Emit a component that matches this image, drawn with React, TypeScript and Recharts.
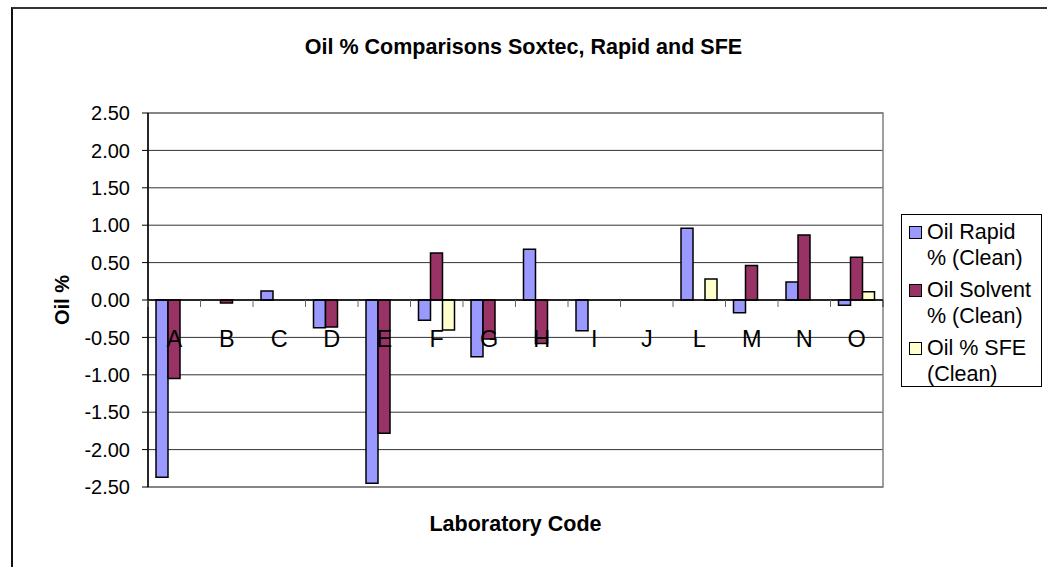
import { BarChart, Bar, XAxis, YAxis, CartesianGrid, Legend, ReferenceLine, ReferenceArea, Label } from "recharts";

const CODES = ["A", "B", "C", "D", "E", "F", "G", "H", "I", "J", "L", "M", "N", "O"];
const RAPID = [-2.37, null, 0.12, -0.37, -2.45, -0.27, -0.76, 0.68, -0.41, null, 0.96, -0.17, 0.24, -0.07];
const SOLVENT = [-1.05, -0.04, null, -0.36, -1.78, 0.63, -0.52, -0.58, null, null, null, 0.46, 0.87, 0.57];
const SFE = [null, null, null, null, null, -0.4, null, null, null, null, 0.28, null, null, 0.11];
const Y_TICKS = [-2.5, -2, -1.5, -1, -0.5, 0, 0.5, 1, 1.5, 2, 2.5];

const SERIES = [
  { key: "rapid", name: "Oil Rapid % (Clean)", color: "#9999FF" },
  { key: "solvent", name: "Oil Solvent % (Clean)", color: "#993366" },
  { key: "sfe", name: "Oil % SFE (Clean)", color: "#FFFFCC" },
];

const data = CODES.map((code, i) => ({ code, rapid: RAPID[i], solvent: SOLVENT[i], sfe: SFE[i] }));

const FONT = "'Liberation Sans', Arial, sans-serif";
const W = 1047;
const H = 567;
const PLOT_LEFT = 148;
const PLOT_TOP = 113;
const PLOT_RIGHT = 883;
const PLOT_BOTTOM = 487;
const Y_AXIS_W = 60;
const X_AXIS_H = 30;
const Y_MIN = -2.5;
const Y_MAX = 2.5;
const BAND = (PLOT_RIGHT - PLOT_LEFT) / CODES.length;
const ZERO_Y = PLOT_TOP + ((PLOT_BOTTOM - PLOT_TOP) * Y_MAX) / (Y_MAX - Y_MIN);

// category labels and tick marks sit on the zero line, like Excel does
const CategoryTick = (props: any) => {
  const { x, payload, index } = props;
  const half = BAND / 2;
  return (
    <g>
      <line x1={x - half} x2={x - half} y1={ZERO_Y} y2={ZERO_Y + 7} stroke="#666" />
      {index === CODES.length - 1 && (
        <line x1={x + half} x2={x + half} y1={ZERO_Y} y2={ZERO_Y + 7} stroke="#333" />
      )}
      <text x={x} y={ZERO_Y + 47} textAnchor="middle" fontSize={23.5} fontFamily={FONT} fill="#000">
        {payload.value}
      </text>
    </g>
  );
};

const LegendBox = () => (
  <div
    style={{
      boxSizing: "border-box",
      width: 141,
      height: 173,
      border: "1px solid #000",
      background: "#fff",
      padding: "4px 0 0 0",
      fontFamily: FONT,
      fontSize: 21.5,
      lineHeight: "26px",
      color: "#000",
    }}
  >
    {SERIES.map((s) => (
      <div key={s.key} style={{ position: "relative", paddingLeft: 25, marginBottom: 6, width: 110 }}>
        <span
          style={{
            position: "absolute",
            left: 7,
            top: 7,
            width: 11,
            height: 11,
            background: s.color,
            border: "1.5px solid #000",
          }}
        />
        {s.name}
      </div>
    ))}
  </div>
);

export default function App() {
  return (
    <div style={{ position: "absolute", left: 0, top: 0, width: W, height: H, background: "#fff" }}>
      <div
        style={{
          position: "absolute",
          left: 11,
          top: 7,
          width: W - 11,
          height: H - 7,
          borderTop: "2px solid #333",
          borderLeft: "2px solid #111",
        }}
      />
      <div
        style={{
          position: "absolute",
          left: 0,
          top: 35,
          width: W,
          textAlign: "center",
          fontFamily: FONT,
          fontWeight: "bold",
          fontSize: 21.5,
          color: "#000",
        }}
      >
        Oil % Comparisons Soxtec, Rapid and SFE
      </div>
      <BarChart
        width={W}
        height={H}
        data={data}
        margin={{
          top: PLOT_TOP,
          right: W - PLOT_RIGHT,
          bottom: H - PLOT_BOTTOM - X_AXIS_H,
          left: PLOT_LEFT - Y_AXIS_W,
        }}
        barSize={12}
        barGap={0}
      >
        <CartesianGrid vertical={false} stroke="#333" />
        <ReferenceArea y1={Y_MIN} y2={Y_MAX} fill="none" stroke="#808080" strokeWidth={1.5} />
        <XAxis
          dataKey="code"
          axisLine={false}
          tickLine={false}
          interval={0}
          height={X_AXIS_H}
          tick={<CategoryTick />}
        >
          <Label
            content={(p: any) => (
              <text
                x={p.viewBox.x + p.viewBox.width / 2}
                y={p.viewBox.y + 44}
                textAnchor="middle"
                fontSize={21.5}
                fontWeight="bold"
                fontFamily={FONT}
                fill="#000"
              >
                Laboratory Code
              </text>
            )}
          />
        </XAxis>
        <YAxis
          domain={[Y_MIN, Y_MAX]}
          ticks={Y_TICKS}
          width={Y_AXIS_W}
          tickFormatter={(v: number) => v.toFixed(2)}
          tick={{ fontSize: 20, fill: "#000", fontFamily: FONT }}
          tickSize={6}
          tickMargin={12}
          axisLine={{ stroke: "#000", strokeWidth: 1.5 }}
          tickLine={{ stroke: "#000" }}
          allowDataOverflow
        >
          <Label
            content={(p: any) => {
              const cx = p.viewBox.x - 26;
              const cy = p.viewBox.y + p.viewBox.height / 2;
              return (
                <text
                  x={cx}
                  y={cy}
                  transform={`rotate(-90 ${cx} ${cy})`}
                  textAnchor="middle"
                  dominantBaseline="central"
                  fontSize={20}
                  fontWeight="bold"
                  fontFamily={FONT}
                  fill="#000"
                >
                  Oil %
                </text>
              );
            }}
          />
        </YAxis>
        <Legend
          layout="vertical"
          align="center"
          verticalAlign="middle"
          content={() => <LegendBox />}
          wrapperStyle={{ position: "absolute", left: 901, top: 214, width: 141, height: 173 }}
        />
        {SERIES.map((s) => (
          <Bar key={s.key} dataKey={s.key} name={s.name} fill={s.color} stroke="#000" strokeWidth={1.5} isAnimationActive={false} />
        ))}
        <ReferenceLine y={0} stroke="#000" strokeWidth={1.5} />
      </BarChart>
    </div>
  );
}
